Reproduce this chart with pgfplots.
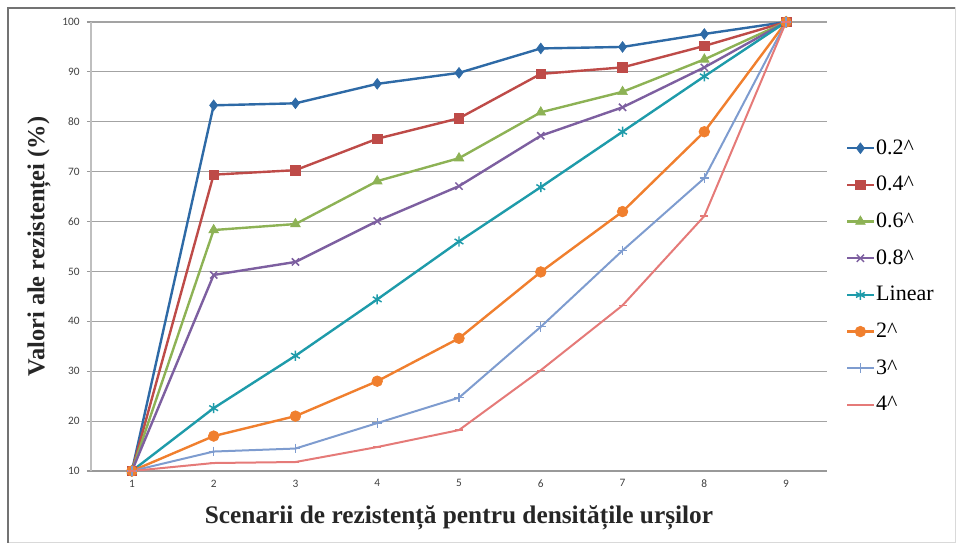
\documentclass[border=0pt]{standalone}
\usepackage{fontspec}
\setmainfont{Liberation Serif}
\newfontfamily\tickfont{Carlito}
\usepackage{pgfplots}
\pgfplotsset{compat=1.18}

\definecolor{cA}{HTML}{2E6AA6}
\definecolor{cB}{HTML}{BE4B48}
\definecolor{cC}{HTML}{8DB255}
\definecolor{cD}{HTML}{7D5FA0}
\definecolor{cE}{HTML}{1E9BAA}
\definecolor{cF}{HTML}{F07F2E}
\definecolor{cG}{HTML}{7E9CCF}
\definecolor{cH}{HTML}{E57A78}
\definecolor{gridc}{HTML}{A3A3A3}
\definecolor{tickc}{HTML}{404040}

\begin{document}
\begin{tikzpicture}[x=0.75pt,y=0.75pt]
\begin{axis}[
  scale only axis, width=552pt, height=336.75pt,
  xmin=0.5, xmax=9.5, ymin=10, ymax=100,
  xtick={1,...,9}, ytick={10,20,...,100},
  minor xtick={0.5,1.5,...,9.5},
  axis x line*=bottom, axis y line*=left,
  x axis line style={color=black!40, line width=0.8pt, -},
  y axis line style={color=black!25, line width=0.8pt, -},
  xtick style={draw=none},
  minor x tick style={color=black!40, line width=0.8pt},
  y tick style={color=black!40, line width=0.8pt},
  tick align=outside, major tick length=3pt, minor tick length=3pt,
  ymajorgrids, major grid style={color=gridc, line width=0.9pt},
  /pgf/number format/assume math mode=true,
  ticklabel style={font=\tickfont\fontsize{8.5}{9}\selectfont, color=tickc},
  yticklabel style={xshift=-2pt},
  xlabel={\textbf{Scenarii de rezistență pentru densitățile urșilor}},
  ylabel={\textbf{Valori ale rezistenței (\%)}},
  label style={color=black!85},
  xlabel style={font=\fontsize{19}{21}\selectfont, yshift=-7pt},
  ylabel style={font=\fontsize{18.3}{20}\selectfont, yshift=2pt},
  legend cell align=left,
  legend style={draw=none, fill=none, at={(1,0.433)}, anchor=west, xshift=14pt,
    font=\fontsize{16.5}{18}\selectfont, row sep=10.5pt, inner sep=0pt,
    nodes={inner sep=1pt, text height=12pt, text depth=3pt}},
  legend image code/.code={\draw[mark repeat=2,mark phase=2] plot coordinates {(0cm,0cm) (0.35cm,0cm) (0.7cm,0cm)};},
  every axis plot/.append style={line width=1.8pt},
]
\coordinate (plotsw) at (rel axis cs:0,0);
\addplot[color=cA, mark=diamond*, mark size=4pt, mark options={solid, line width=0.5pt}]
  coordinates {(1,10) (2,83.3) (3,83.7) (4,87.6) (5,89.8) (6,94.7) (7,95.0) (8,97.6) (9,100)};
\addlegendentry{0.2\^{}}
\addplot[color=cB, mark=square*, mark size=3.6pt, mark options={solid, line width=0.5pt}]
  coordinates {(1,10) (2,69.4) (3,70.3) (4,76.6) (5,80.7) (6,89.6) (7,90.9) (8,95.2) (9,100)};
\addlegendentry{0.4\^{}}
\addplot[color=cC, mark=triangle*, mark size=4.2pt, mark options={solid, line width=0.5pt}]
  coordinates {(1,10) (2,58.3) (3,59.5) (4,68.1) (5,72.7) (6,81.9) (7,86.0) (8,92.5) (9,100)};
\addlegendentry{0.6\^{}}
\addplot[color=cD, mark=x, mark size=3.8pt, mark options={solid, line width=1.1pt}]
  coordinates {(1,10) (2,49.3) (3,51.9) (4,60.1) (5,67.1) (6,77.2) (7,82.9) (8,90.9) (9,100)};
\addlegendentry{0.8\^{}}
\addplot[color=cE, mark=asterisk, mark size=3.8pt, mark options={solid, line width=1.1pt}]
  coordinates {(1,10) (2,22.6) (3,33.1) (4,44.4) (5,56.0) (6,66.9) (7,78.0) (8,89.1) (9,100)};
\addlegendentry{Linear}
\addplot[color=cF, mark=*, mark size=4pt, mark options={solid, line width=0.5pt}]
  coordinates {(1,10) (2,17.0) (3,21.0) (4,28.0) (5,36.6) (6,49.9) (7,62.0) (8,78.0) (9,100)};
\addlegendentry{2\^{}}
\addplot[color=cG, line width=1.5pt, mark=+, mark size=3.6pt, mark options={solid, line width=1pt}]
  coordinates {(1,10) (2,13.9) (3,14.5) (4,19.6) (5,24.7) (6,38.9) (7,54.2) (8,68.7) (9,100)};
\addlegendentry{3\^{}}
\addplot[color=cH, line width=1.5pt, mark=-, mark size=3pt, mark options={solid, line width=1pt}]
  coordinates {(1,10) (2,11.6) (3,11.8) (4,14.8) (5,18.2) (6,30.2) (7,43.2) (8,61.1) (9,100)};
\addlegendentry{4\^{}}
\end{axis}
% page box: plot area sits 91 px from the left and 74 px from the bottom
\pgfresetboundingbox
\path[use as bounding box] (plotsw) ++(-91,-74) rectangle ++(957,545);
% chart frame: light outline, darker left and top edges
\draw[color=black!15, line width=0.75pt] (plotsw) ++(-83,-72) rectangle ++(947,535);
\draw[color=black!55, line width=2.2pt] (plotsw) ++(-83,-72) -- ++(0,535) -- ++(947,0);
\end{tikzpicture}
\end{document}
